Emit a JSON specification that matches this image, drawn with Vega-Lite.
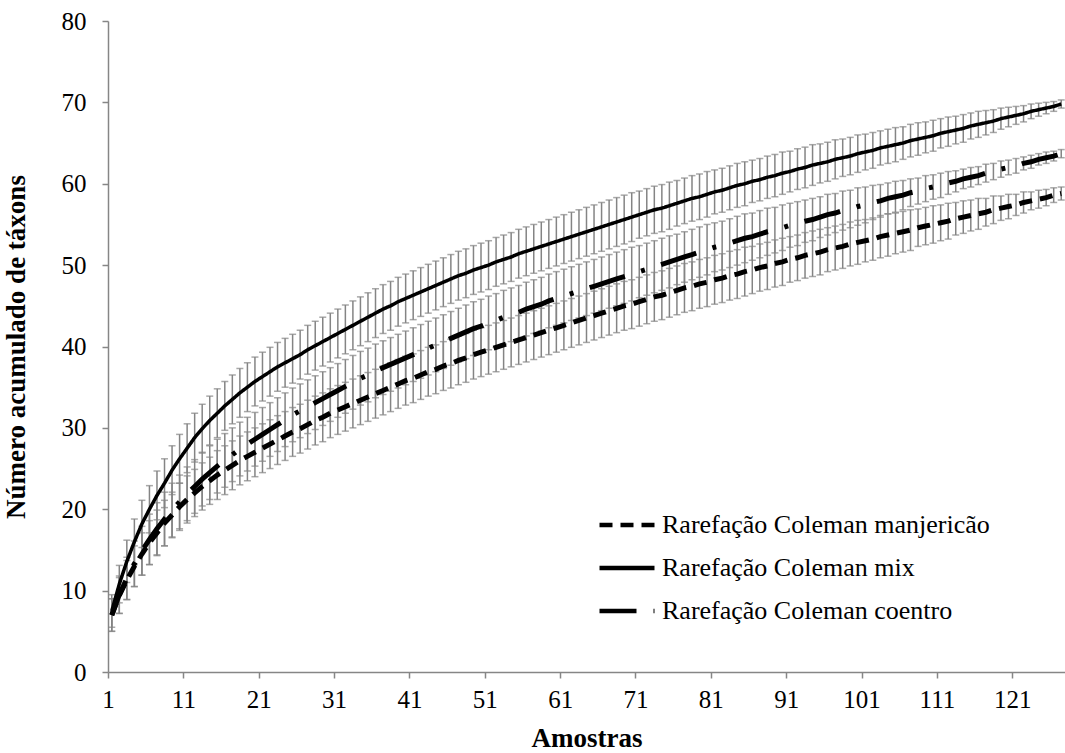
{
"$schema":"https://vega.github.io/schema/vega-lite/v6.json",
"width":957,"height":651,
"autosize":{"type":"none"},
"padding":{"left":108,"top":21,"right":0,"bottom":81},
"background":"white",
"data":{"values":[
{"s":1,"a":7.0,"ae":2.0,"b":7.5,"be":2.0,"c":7.0,"ce":2.0},
{"s":2,"a":9.4,"ae":2.2,"b":10.8,"be":2.3,"c":9.5,"ce":2.3},
{"s":3,"a":11.3,"ae":2.4,"b":13.6,"be":2.6,"c":11.5,"ce":2.6},
{"s":4,"a":13.0,"ae":2.5,"b":16.0,"be":2.8,"c":13.3,"ce":2.8},
{"s":5,"a":14.5,"ae":2.6,"b":18.2,"be":2.9,"c":14.9,"ce":3.0},
{"s":6,"a":15.9,"ae":2.7,"b":20.0,"be":2.9,"c":16.3,"ce":3.1},
{"s":7,"a":17.1,"ae":2.8,"b":21.7,"be":3.0,"c":17.6,"ce":3.2},
{"s":8,"a":18.3,"ae":2.8,"b":23.2,"be":3.0,"c":18.8,"ce":3.3},
{"s":9,"a":19.3,"ae":2.8,"b":24.8,"be":3.0,"c":19.9,"ce":3.3},
{"s":10,"a":20.3,"ae":2.9,"b":26.2,"be":3.0,"c":20.9,"ce":3.3},
{"s":11,"a":21.2,"ae":2.9,"b":27.5,"be":3.0,"c":21.9,"ce":3.3},
{"s":12,"a":22.0,"ae":2.9,"b":28.8,"be":3.0,"c":22.8,"ce":3.3},
{"s":13,"a":22.8,"ae":2.9,"b":29.9,"be":3.0,"c":23.7,"ce":3.3},
{"s":14,"a":23.5,"ae":2.9,"b":30.9,"be":3.0,"c":24.5,"ce":3.3},
{"s":15,"a":24.2,"ae":3.0,"b":31.8,"be":3.0,"c":25.3,"ce":3.3},
{"s":16,"a":24.8,"ae":3.0,"b":32.7,"be":3.0,"c":26.0,"ce":3.3},
{"s":17,"a":25.4,"ae":3.0,"b":33.5,"be":3.0,"c":26.7,"ce":3.3},
{"s":18,"a":26.0,"ae":3.0,"b":34.3,"be":3.0,"c":27.4,"ce":3.3},
{"s":19,"a":26.5,"ae":3.0,"b":35.0,"be":3.0,"c":28.0,"ce":3.3},
{"s":20,"a":27.0,"ae":3.0,"b":35.7,"be":3.0,"c":28.6,"ce":3.3},
{"s":21,"a":27.5,"ae":3.0,"b":36.3,"be":3.0,"c":29.2,"ce":3.3},
{"s":22,"a":28.0,"ae":3.0,"b":36.9,"be":3.0,"c":29.8,"ce":3.3},
{"s":23,"a":28.5,"ae":3.0,"b":37.5,"be":3.0,"c":30.4,"ce":3.3},
{"s":24,"a":29.0,"ae":3.0,"b":38.0,"be":3.0,"c":31.0,"ce":3.3},
{"s":25,"a":29.5,"ae":3.0,"b":38.5,"be":3.0,"c":31.6,"ce":3.3},
{"s":26,"a":29.9,"ae":3.0,"b":39.0,"be":3.0,"c":32.1,"ce":3.3},
{"s":27,"a":30.4,"ae":3.0,"b":39.6,"be":3.0,"c":32.6,"ce":3.3},
{"s":28,"a":30.9,"ae":3.0,"b":40.1,"be":3.0,"c":33.1,"ce":3.3},
{"s":29,"a":31.3,"ae":3.0,"b":40.6,"be":3.0,"c":33.6,"ce":3.3},
{"s":30,"a":31.8,"ae":3.0,"b":41.1,"be":3.0,"c":34.1,"ce":3.3},
{"s":31,"a":32.2,"ae":3.0,"b":41.6,"be":3.0,"c":34.6,"ce":3.3},
{"s":32,"a":32.6,"ae":3.0,"b":42.1,"be":3.0,"c":35.1,"ce":3.3},
{"s":33,"a":33.0,"ae":3.0,"b":42.6,"be":3.0,"c":35.6,"ce":3.3},
{"s":34,"a":33.4,"ae":3.0,"b":43.1,"be":3.0,"c":36.1,"ce":3.3},
{"s":35,"a":33.8,"ae":3.0,"b":43.6,"be":3.0,"c":36.5,"ce":3.3},
{"s":36,"a":34.2,"ae":3.0,"b":44.1,"be":3.0,"c":37.0,"ce":3.3},
{"s":37,"a":34.6,"ae":3.0,"b":44.6,"be":3.0,"c":37.4,"ce":3.3},
{"s":38,"a":35.0,"ae":3.0,"b":45.0,"be":3.0,"c":37.8,"ce":3.3},
{"s":39,"a":35.4,"ae":3.0,"b":45.5,"be":3.0,"c":38.2,"ce":3.3},
{"s":40,"a":35.8,"ae":3.0,"b":45.9,"be":3.0,"c":38.6,"ce":3.3},
{"s":41,"a":36.1,"ae":3.0,"b":46.3,"be":3.0,"c":39.0,"ce":3.3},
{"s":42,"a":36.5,"ae":3.0,"b":46.7,"be":3.0,"c":39.4,"ce":3.3},
{"s":43,"a":36.9,"ae":3.0,"b":47.1,"be":3.0,"c":39.8,"ce":3.3},
{"s":44,"a":37.2,"ae":3.0,"b":47.5,"be":3.0,"c":40.2,"ce":3.3},
{"s":45,"a":37.6,"ae":3.0,"b":47.9,"be":3.0,"c":40.6,"ce":3.3},
{"s":46,"a":37.9,"ae":3.0,"b":48.3,"be":3.0,"c":41.0,"ce":3.3},
{"s":47,"a":38.3,"ae":3.0,"b":48.7,"be":3.0,"c":41.4,"ce":3.3},
{"s":48,"a":38.6,"ae":3.0,"b":49.0,"be":3.0,"c":41.8,"ce":3.3},
{"s":49,"a":39.0,"ae":3.0,"b":49.4,"be":3.0,"c":42.2,"ce":3.3},
{"s":50,"a":39.3,"ae":3.0,"b":49.7,"be":3.0,"c":42.5,"ce":3.3},
{"s":51,"a":39.6,"ae":3.0,"b":50.0,"be":3.0,"c":42.9,"ce":3.3},
{"s":52,"a":39.9,"ae":3.0,"b":50.4,"be":3.0,"c":43.2,"ce":3.3},
{"s":53,"a":40.2,"ae":3.0,"b":50.7,"be":3.0,"c":43.6,"ce":3.3},
{"s":54,"a":40.5,"ae":3.0,"b":51.0,"be":3.0,"c":43.9,"ce":3.3},
{"s":55,"a":40.8,"ae":3.0,"b":51.4,"be":3.0,"c":44.2,"ce":3.3},
{"s":56,"a":41.1,"ae":3.0,"b":51.7,"be":3.0,"c":44.6,"ce":3.3},
{"s":57,"a":41.4,"ae":3.0,"b":52.0,"be":3.0,"c":44.9,"ce":3.3},
{"s":58,"a":41.7,"ae":3.0,"b":52.3,"be":3.0,"c":45.2,"ce":3.3},
{"s":59,"a":42.0,"ae":3.0,"b":52.6,"be":3.0,"c":45.6,"ce":3.3},
{"s":60,"a":42.3,"ae":3.0,"b":52.9,"be":3.0,"c":45.9,"ce":3.3},
{"s":61,"a":42.6,"ae":3.0,"b":53.2,"be":3.0,"c":46.2,"ce":3.3},
{"s":62,"a":42.9,"ae":3.0,"b":53.5,"be":3.0,"c":46.5,"ce":3.3},
{"s":63,"a":43.2,"ae":3.0,"b":53.8,"be":3.0,"c":46.8,"ce":3.3},
{"s":64,"a":43.5,"ae":3.0,"b":54.1,"be":3.0,"c":47.1,"ce":3.3},
{"s":65,"a":43.8,"ae":3.0,"b":54.4,"be":3.0,"c":47.4,"ce":3.3},
{"s":66,"a":44.1,"ae":3.0,"b":54.7,"be":3.0,"c":47.7,"ce":3.3},
{"s":67,"a":44.4,"ae":3.0,"b":55.0,"be":3.0,"c":48.0,"ce":3.3},
{"s":68,"a":44.7,"ae":3.0,"b":55.3,"be":3.0,"c":48.3,"ce":3.3},
{"s":69,"a":45.0,"ae":3.0,"b":55.6,"be":3.0,"c":48.6,"ce":3.3},
{"s":70,"a":45.2,"ae":3.0,"b":55.9,"be":3.0,"c":48.9,"ce":3.3},
{"s":71,"a":45.5,"ae":3.0,"b":56.2,"be":2.9,"c":49.2,"ce":3.2},
{"s":72,"a":45.8,"ae":3.0,"b":56.5,"be":2.9,"c":49.5,"ce":3.2},
{"s":73,"a":46.1,"ae":3.0,"b":56.8,"be":2.9,"c":49.8,"ce":3.2},
{"s":74,"a":46.3,"ae":3.0,"b":57.0,"be":2.9,"c":50.1,"ce":3.2},
{"s":75,"a":46.6,"ae":3.0,"b":57.3,"be":2.9,"c":50.4,"ce":3.2},
{"s":76,"a":46.9,"ae":3.0,"b":57.6,"be":2.8,"c":50.7,"ce":3.1},
{"s":77,"a":47.2,"ae":3.0,"b":57.9,"be":2.8,"c":51.0,"ce":3.1},
{"s":78,"a":47.4,"ae":3.0,"b":58.2,"be":2.8,"c":51.3,"ce":3.1},
{"s":79,"a":47.7,"ae":3.0,"b":58.4,"be":2.8,"c":51.6,"ce":3.1},
{"s":80,"a":47.9,"ae":3.0,"b":58.7,"be":2.8,"c":51.9,"ce":3.1},
{"s":81,"a":48.2,"ae":3.0,"b":59.0,"be":2.7,"c":52.2,"ce":3.0},
{"s":82,"a":48.4,"ae":3.0,"b":59.2,"be":2.7,"c":52.4,"ce":3.0},
{"s":83,"a":48.7,"ae":3.0,"b":59.5,"be":2.7,"c":52.7,"ce":3.0},
{"s":84,"a":48.9,"ae":3.0,"b":59.8,"be":2.7,"c":53.0,"ce":3.0},
{"s":85,"a":49.2,"ae":3.0,"b":60.0,"be":2.7,"c":53.3,"ce":3.0},
{"s":86,"a":49.4,"ae":2.9,"b":60.3,"be":2.6,"c":53.5,"ce":2.9},
{"s":87,"a":49.7,"ae":2.9,"b":60.5,"be":2.6,"c":53.8,"ce":2.9},
{"s":88,"a":49.9,"ae":2.9,"b":60.8,"be":2.6,"c":54.1,"ce":2.9},
{"s":89,"a":50.2,"ae":2.9,"b":61.0,"be":2.6,"c":54.3,"ce":2.8},
{"s":90,"a":50.4,"ae":2.9,"b":61.3,"be":2.6,"c":54.6,"ce":2.8},
{"s":91,"a":50.7,"ae":2.8,"b":61.5,"be":2.5,"c":54.9,"ce":2.7},
{"s":92,"a":50.9,"ae":2.8,"b":61.8,"be":2.5,"c":55.1,"ce":2.7},
{"s":93,"a":51.2,"ae":2.8,"b":62.0,"be":2.5,"c":55.4,"ce":2.6},
{"s":94,"a":51.4,"ae":2.8,"b":62.3,"be":2.5,"c":55.6,"ce":2.6},
{"s":95,"a":51.6,"ae":2.8,"b":62.5,"be":2.4,"c":55.9,"ce":2.5},
{"s":96,"a":51.9,"ae":2.7,"b":62.7,"be":2.4,"c":56.2,"ce":2.5},
{"s":97,"a":52.1,"ae":2.7,"b":63.0,"be":2.4,"c":56.4,"ce":2.4},
{"s":98,"a":52.3,"ae":2.7,"b":63.2,"be":2.3,"c":56.7,"ce":2.4},
{"s":99,"a":52.6,"ae":2.7,"b":63.4,"be":2.3,"c":56.9,"ce":2.3},
{"s":100,"a":52.8,"ae":2.7,"b":63.7,"be":2.3,"c":57.2,"ce":2.3},
{"s":101,"a":53.0,"ae":2.6,"b":63.9,"be":2.2,"c":57.4,"ce":2.2},
{"s":102,"a":53.2,"ae":2.6,"b":64.1,"be":2.2,"c":57.7,"ce":2.1},
{"s":103,"a":53.5,"ae":2.6,"b":64.4,"be":2.1,"c":57.9,"ce":2.0},
{"s":104,"a":53.7,"ae":2.6,"b":64.6,"be":2.1,"c":58.2,"ce":1.9},
{"s":105,"a":53.9,"ae":2.5,"b":64.8,"be":2.1,"c":58.4,"ce":1.9},
{"s":106,"a":54.1,"ae":2.5,"b":65.0,"be":2.0,"c":58.6,"ce":1.8},
{"s":107,"a":54.3,"ae":2.5,"b":65.3,"be":2.0,"c":58.9,"ce":1.7},
{"s":108,"a":54.6,"ae":2.3,"b":65.5,"be":2.0,"c":59.1,"ce":1.6},
{"s":109,"a":54.8,"ae":2.3,"b":65.7,"be":1.9,"c":59.4,"ce":1.6},
{"s":110,"a":55.0,"ae":2.3,"b":65.9,"be":1.9,"c":59.6,"ce":1.5},
{"s":111,"a":55.2,"ae":2.2,"b":66.2,"be":1.8,"c":59.8,"ce":1.5},
{"s":112,"a":55.4,"ae":2.2,"b":66.4,"be":1.8,"c":60.1,"ce":1.4},
{"s":113,"a":55.7,"ae":2.0,"b":66.6,"be":1.7,"c":60.3,"ce":1.3},
{"s":114,"a":55.9,"ae":2.0,"b":66.8,"be":1.7,"c":60.6,"ce":1.2},
{"s":115,"a":56.1,"ae":1.9,"b":67.1,"be":1.6,"c":60.8,"ce":1.2},
{"s":116,"a":56.3,"ae":1.9,"b":67.3,"be":1.6,"c":61.0,"ce":1.1},
{"s":117,"a":56.5,"ae":1.7,"b":67.5,"be":1.5,"c":61.3,"ce":1.1},
{"s":118,"a":56.8,"ae":1.7,"b":67.7,"be":1.4,"c":61.5,"ce":1.0},
{"s":119,"a":57.0,"ae":1.5,"b":68.0,"be":1.3,"c":61.8,"ce":1.0},
{"s":120,"a":57.2,"ae":1.5,"b":68.2,"be":1.2,"c":62.0,"ce":0.9},
{"s":121,"a":57.4,"ae":1.3,"b":68.4,"be":1.1,"c":62.2,"ce":0.9},
{"s":122,"a":57.7,"ae":1.3,"b":68.6,"be":1.0,"c":62.5,"ce":0.8},
{"s":123,"a":57.9,"ae":1.1,"b":68.9,"be":0.9,"c":62.7,"ce":0.8},
{"s":124,"a":58.1,"ae":1.1,"b":69.1,"be":0.8,"c":63.0,"ce":0.7},
{"s":125,"a":58.3,"ae":1.0,"b":69.3,"be":0.7,"c":63.2,"ce":0.7},
{"s":126,"a":58.6,"ae":0.9,"b":69.5,"be":0.6,"c":63.4,"ce":0.6},
{"s":127,"a":58.8,"ae":0.8,"b":69.8,"be":0.5,"c":63.7,"ce":0.5}
]},
"encoding":{"x":{"field":"s","type":"quantitative","scale":{"domain":[0.5,127.5],"nice":false,"zero":false},"axis":{"values":[0.5,10.5,20.5,30.5,40.5,50.5,60.5,70.5,80.5,90.5,100.5,110.5,120.5],"labelExpr":"datum.value + 0.5","title":"Amostras","labelFlush":false,"labelOverlap":false}}},
"layer":[
{"mark":{"type":"errorbar","ticks":{"size":7,"thickness":1.5,"color":"#848484"},"rule":{"color":"#848484","strokeWidth":1.5}},
 "encoding":{"y":{"field":"a","type":"quantitative","title":"Número acumulado de táxons","scale":{"domain":[0,80],"nice":false}},"yError":{"field":"ae"}}},
{"mark":{"type":"errorbar","ticks":{"size":7,"thickness":1.5,"color":"#848484"},"rule":{"color":"#848484","strokeWidth":1.5}},
 "encoding":{"y":{"field":"b","type":"quantitative","title":"Número acumulado de táxons","scale":{"domain":[0,80],"nice":false}},"yError":{"field":"be"}}},
{"mark":{"type":"errorbar","ticks":{"size":7,"thickness":1.5,"color":"#848484"},"rule":{"color":"#848484","strokeWidth":1.5}},
 "encoding":{"y":{"field":"c","type":"quantitative","title":"Número acumulado de táxons","scale":{"domain":[0,80],"nice":false}},"yError":{"field":"ce"}}},
{"mark":{"type":"line","color":"black","strokeWidth":5},
 "encoding":{"y":{"field":"a","type":"quantitative","title":"Número acumulado de táxons","scale":{"domain":[0,80],"nice":false}},
  "strokeDash":{"datum":"Rarefação Coleman manjericão","scale":{"domain":["Rarefação Coleman manjericão","Rarefação Coleman mix","Rarefação Coleman coentro"],"range":[[13,8],[1,0],[37,17,4,17]]},
   "legend":{"title":null,"orient":"none","legendX":489,"legendY":474,"symbolType":"stroke","symbolSize":3025,"symbolStrokeWidth":4.5,"symbolStrokeColor":"black","labelFont":"Liberation Serif","labelFontSize":26,"labelColor":"black","labelOffset":5,"rowPadding":-8,"labelLimit":0,"padding":0}}}},
{"mark":{"type":"line","color":"black","strokeWidth":3.5},
 "encoding":{"y":{"field":"b","type":"quantitative","title":"Número acumulado de táxons","scale":{"domain":[0,80],"nice":false}},
  "strokeDash":{"datum":"Rarefação Coleman mix","scale":{"domain":["Rarefação Coleman manjericão","Rarefação Coleman mix","Rarefação Coleman coentro"],"range":[[13,8],[1,0],[37,17,4,17]]}}}},
{"mark":{"type":"line","color":"black","strokeWidth":5},
 "encoding":{"y":{"field":"c","type":"quantitative","title":"Número acumulado de táxons","scale":{"domain":[0,80],"nice":false}},
  "strokeDash":{"datum":"Rarefação Coleman coentro","scale":{"domain":["Rarefação Coleman manjericão","Rarefação Coleman mix","Rarefação Coleman coentro"],"range":[[13,8],[1,0],[37,17,4,17]]}}}}
],
"config":{
 "font":"Liberation Serif",
 "view":{"stroke":null},
 "legend":{"labelFont":"Liberation Serif"},
 "axis":{"grid":false,"domainColor":"#868686","domainWidth":1.5,"tickColor":"#868686","tickWidth":1.5,"tickSize":6,"labelFont":"Liberation Serif","labelFontSize":25,"labelColor":"black","titleFont":"Liberation Serif","titleFontSize":27,"titleFontWeight":"bold","titleColor":"black"},
 "axisX":{"labelPadding":9,"titlePadding":13},
 "axisY":{"labelPadding":16,"titlePadding":31,"tickCount":8}
}
}
